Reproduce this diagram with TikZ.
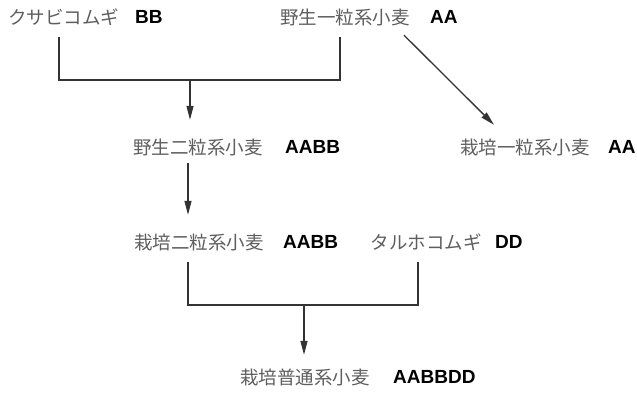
\documentclass[tikz,border=0pt]{standalone}
\usepackage{fontspec}
\newfontfamily\jpfont{Noto Sans CJK JP}
\newfontfamily\gnfont{Liberation Sans}
\usetikzlibrary{arrows.meta}
\definecolor{jpgray}{HTML}{5E5E5E}
\definecolor{linegray}{HTML}{333333}
\tikzset{
  jp/.style={font=\jpfont\fontsize{18.5}{19}\selectfont, text=jpgray, inner sep=0pt, text height=17pt, text depth=3pt},
  gene/.style={font=\gnfont\bfseries\fontsize{19}{19}\selectfont, text=black, inner sep=0pt, anchor=west},
  conn/.style={draw=linegray, line width=1.3pt},
  arr/.style={conn, -{Triangle[length=14pt,width=7pt]}}
}
\begin{document}
\begin{tikzpicture}[x=1pt,y=-1pt]
\useasboundingbox (0,0) rectangle (637,392);
% top row
\node[jp] (kj) at (64,17) {クサビコムギ};
\node[gene] (kg) at (135,17) {BB};
\node[jp] (yj1) at (345,17) {野生一粒系小麦};
\node[gene] (yg1) at (430,17) {AA};
% second row
\node[jp] (y2) at (198,147) {野生二粒系小麦};
\node[gene] (y2g) at (285,147) {AABB};
\node[jp] (c1) at (525,147) {栽培一粒系小麦};
\node[gene] (c1g) at (608,147) {AA};
% third row
\node[jp] (s2) at (199,242) {栽培二粒系小麦};
\node[gene] (s2g) at (283,242) {AABB};
\node[jp] (tj) at (426,242) {タルホコムギ};
\node[gene] (tg) at (495,242) {DD};
% bottom
\node[jp] (f) at (305,377) {栽培普通系小麦};
\node[gene] (fg) at (393,377) {AABBDD};
% junctions
\coordinate (j1) at (190,80);
\coordinate (j2) at (304,305);
% top bracket
\draw[conn] ([shift={(-5,10)}]kj.south) |- (j1) -| ([shift={(-5,10)}]yj1.south);
\draw[arr, shorten >=17pt] (j1) -- (j1 |- y2.north);
% diagonal
\draw[arr] ([shift={(59,8)}]yj1.south) -- ([shift={(-31,-12)}]c1.north);
% middle arrow
\draw[arr, shorten <=6pt, shorten >=17pt] ([shift={(-10,0)}]y2.south) -- ([shift={(-11,0)}]s2.north);
% bottom bracket
\draw[conn] ([shift={(-11,10)}]s2.south) |- (j2) -| ([shift={(-8,10)}]tj.south);
\draw[arr, shorten >=12pt] (j2) -- (j2 |- f.north);
\end{tikzpicture}
\end{document}
